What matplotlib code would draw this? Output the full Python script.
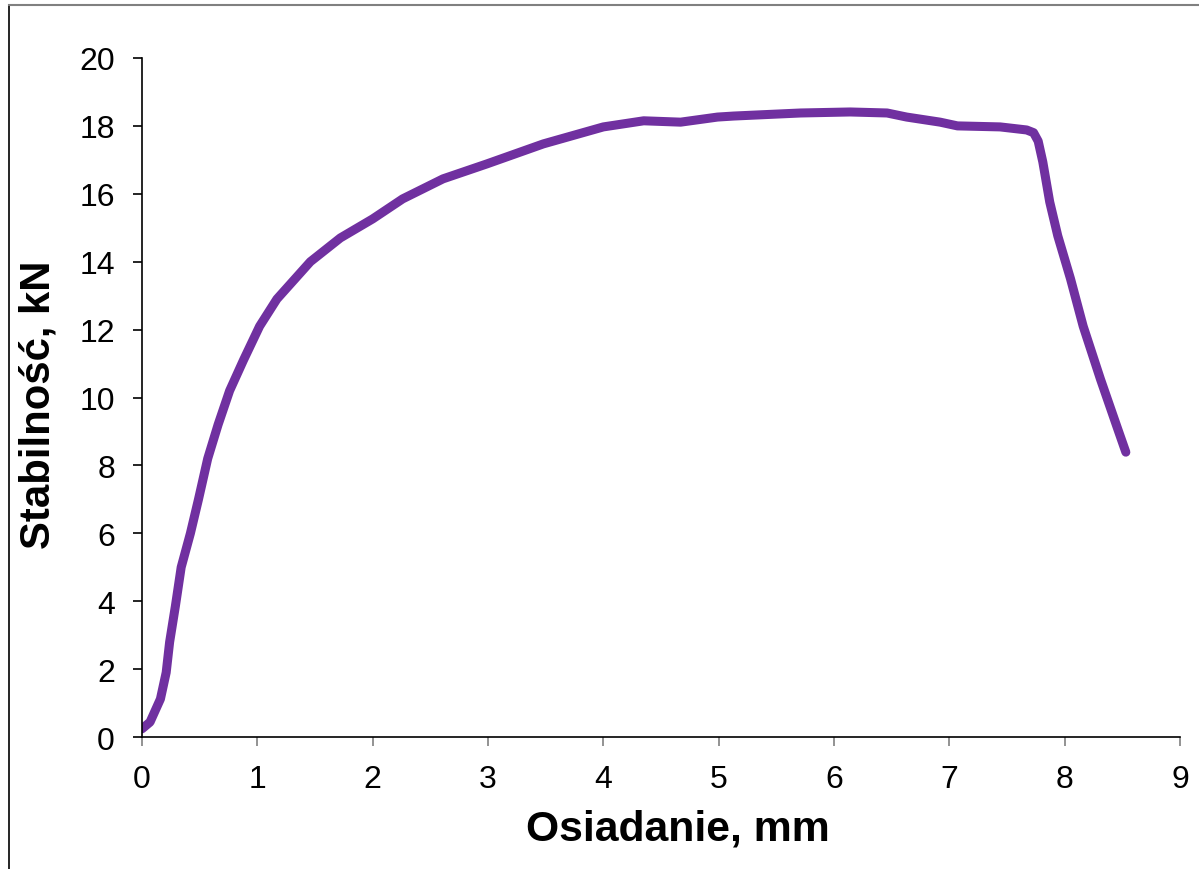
import matplotlib.pyplot as plt
from matplotlib.lines import Line2D

# osiadanie [mm] i stabilnosc [kN]
osiadanie = [0.0, 0.07, 0.16, 0.21, 0.24, 0.29, 0.34, 0.42, 0.49, 0.57, 0.66, 0.76,
             0.88, 1.02, 1.17, 1.46, 1.72, 2.0, 2.26, 2.61, 2.99, 3.48, 4.0, 4.35,
             4.67, 4.99, 5.13, 5.71, 6.14, 6.46, 6.63, 6.92, 7.07, 7.44, 7.67, 7.73,
             7.77, 7.81, 7.87, 7.94, 8.05, 8.16, 8.31, 8.46, 8.53]
stabilnosc = [0.24, 0.44, 1.12, 1.9, 2.8, 3.86, 5.0, 6.0, 7.0, 8.2, 9.2, 10.2,
              11.1, 12.1, 12.9, 14.0, 14.7, 15.26, 15.85, 16.44, 16.88, 17.47, 17.97, 18.15,
              18.11, 18.26, 18.29, 18.38, 18.41, 18.38, 18.26, 18.11, 18.0, 17.97, 17.88, 17.8,
              17.55, 16.94, 15.76, 14.76, 13.5, 12.1, 10.54, 9.07, 8.39]

x_ticks = list(range(0, 10))
y_ticks = list(range(0, 21, 2))

plt.rcParams['font.family'] = ['Liberation Sans', 'DejaVu Sans']

fig = plt.figure(figsize=(11.99, 8.70), dpi=100)
ax = fig.add_axes([0.1184, 0.1517, 0.8658, 0.7805])

ax.plot(osiadanie, stabilnosc, color='#7030A0', linewidth=6.5,
        solid_capstyle='round', solid_joinstyle='round')

ax.set_xlim(0, 9)
ax.set_ylim(0, 20)
ax.set_xticks(x_ticks)
ax.set_yticks(y_ticks)
ax.tick_params(axis='both', direction='out', length=6.5, width=1.2, labelsize=23, pad=13)
ax.tick_params(axis='x', color='#808080')

for s in ['top', 'right']:
    ax.spines[s].set_visible(False)
ax.spines['left'].set_linewidth(1.2)
ax.spines['bottom'].set_linewidth(1.2)

ax.set_xlabel('Osiadanie, mm', fontsize=30.8, fontweight='bold')
ax.set_ylabel('Stabilność, kN', fontsize=30.2, fontweight='bold')
ax.xaxis.set_label_coords(0.516, -0.105)
ax.yaxis.set_label_coords(-0.08, 0.491)

# ramka wykresu
fig.add_artist(Line2D([0.0075, 0.0075], [0.0, 0.9931], transform=fig.transFigure,
                      color='black', linewidth=1.2))
fig.add_artist(Line2D([0.0075, 1.0], [0.9931, 0.9931], transform=fig.transFigure,
                      color='#808080', linewidth=1.5))

fig.savefig('out.png', dpi=100)
